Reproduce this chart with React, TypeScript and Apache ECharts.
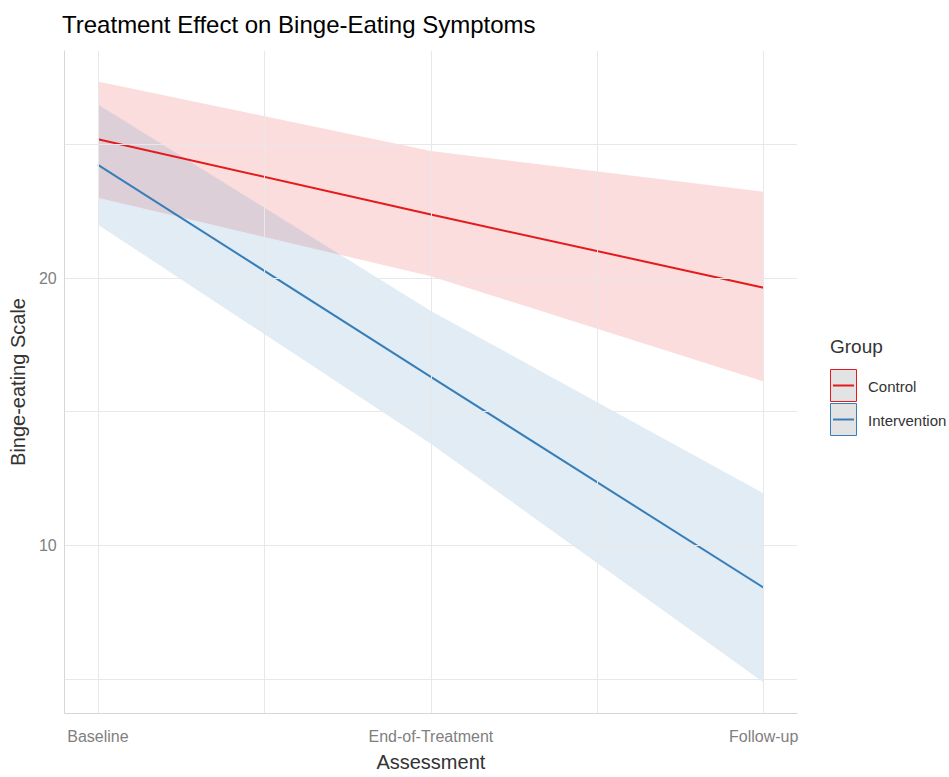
import React, { useEffect, useRef } from "react";
import * as echarts from "echarts";

const categories = ["Baseline", "End-of-Treatment", "Follow-up"];
const positions = [1, 2, 3];
const controlFit = [25.2, 22.38, 19.64];
const controlUpper = [27.36, 24.76, 23.23];
const controlLower = [23.01, 20.07, 16.13];
const interventionFit = [24.24, 16.3, 8.41];
const interventionUpper = [26.5, 18.77, 11.94];
const interventionLower = [22.0, 13.8, 4.86];
const yTickValues = [10, 20];
const yGridValues = [5, 10, 15, 20, 25];
const xGridValues = [1, 1.5, 2, 2.5, 3];
const groups = ["Control", "Intervention"];

const RED = "#E41A1C";
const BLUE = "#377EB8";
const FONT = "Liberation Sans";

function bandSeries(name: string, upper: number[], lower: number[], fill: string) {
  return {
    type: "custom",
    name,
    z: 2,
    silent: true,
    data: [0],
    renderItem: (params: any, api: any) => {
      const pts: number[][] = [];
      positions.forEach((x, i) => pts.push(api.coord([x, upper[i]])));
      for (let i = positions.length - 1; i >= 0; i--) pts.push(api.coord([positions[i], lower[i]]));
      return {
        type: "polygon",
        shape: { points: pts },
        style: { fill, opacity: 0.15 },
      };
    },
  };
}

export default function App() {
  const ref = useRef<HTMLDivElement>(null);
  useEffect(() => {
    if (!ref.current) return;
    const chart = echarts.init(ref.current, null, { renderer: "svg" });
    const gridColor = "#e8e8e8";
    const option: any = {
      animation: false,
      backgroundColor: "#ffffff",
      title: {
        text: "Treatment Effect on Binge-Eating Symptoms",
        left: 57,
        top: 7,
        textStyle: { fontFamily: FONT, fontSize: 24, fontWeight: "normal", color: "#000000" },
      },
      grid: { left: 63, right: 152, top: 51, bottom: 59 },
      xAxis: {
        type: "value",
        min: 0.9,
        max: 3.1,
        name: "Assessment",
        nameLocation: "middle",
        nameGap: 39,
        nameTextStyle: { fontFamily: FONT, fontSize: 20, color: "#333333" },
        axisLine: { show: true, lineStyle: { color: "#d6d6d6", width: 1 } },
        axisTick: { show: false },
        splitLine: { show: false },
        axisLabel: {
          customValues: positions,
          margin: 15,
          fontFamily: FONT,
          fontSize: 16,
          color: "#808080",
          formatter: (v: number) => {
            const i = positions.findIndex((p) => Math.abs(p - v) < 1e-6);
            return i >= 0 ? categories[i] : "";
          },
        },
      },
      yAxis: {
        type: "value",
        min: 3.72,
        max: 28.5,
        name: "Binge-eating Scale",
        nameLocation: "middle",
        nameGap: 33,
        nameTextStyle: { fontFamily: FONT, fontSize: 20, color: "#333333" },
        axisLine: { show: true, lineStyle: { color: "#d6d6d6", width: 1 } },
        axisTick: { show: false },
        splitLine: { show: false },
        axisLabel: {
          customValues: yTickValues,
          margin: 8,
          fontFamily: FONT,
          fontSize: 16,
          color: "#808080",
        },
      },
      series: [
        {
          type: "line",
          name: "grid",
          z: 1,
          silent: true,
          data: [],
          markLine: {
            silent: true,
            symbol: ["none", "none"],
            label: { show: false },
            lineStyle: { color: gridColor, width: 1, type: "solid" },
            data: [
              ...yGridValues.map((v) => ({ yAxis: v })),
              ...xGridValues.map((v) => ({ xAxis: v })),
            ],
          },
        },
        bandSeries("Control band", controlUpper, controlLower, RED),
        bandSeries("Intervention band", interventionUpper, interventionLower, BLUE),
        {
          type: "line",
          name: groups[0],
          z: 3,
          symbol: "none",
          data: positions.map((x, i) => [x, controlFit[i]]),
          lineStyle: { color: RED, width: 2 },
        },
        {
          type: "line",
          name: groups[1],
          z: 3,
          symbol: "none",
          data: positions.map((x, i) => [x, interventionFit[i]]),
          lineStyle: { color: BLUE, width: 2 },
        },
      ],
      graphic: [
        {
          type: "text",
          left: 830,
          top: 337,
          style: { text: "Group", fontFamily: FONT, fontSize: 19, fill: "#333333" },
        },
        {
          type: "group",
          left: 830,
          top: 369,
          children: [
            { type: "rect", shape: { x: 0.5, y: 0.5, width: 26, height: 32 }, style: { fill: "#e3e3e3", stroke: RED, lineWidth: 1 } },
            { type: "line", shape: { x1: 3, y1: 16.5, x2: 24, y2: 16.5 }, style: { stroke: RED, lineWidth: 2 } },
            { type: "rect", shape: { x: 0.5, y: 34.5, width: 26, height: 32 }, style: { fill: "#e3e3e3", stroke: BLUE, lineWidth: 1 } },
            { type: "line", shape: { x1: 3, y1: 50.5, x2: 24, y2: 50.5 }, style: { stroke: BLUE, lineWidth: 2 } },
            { type: "text", x: 38, y: 17, style: { text: groups[0], fontFamily: FONT, fontSize: 15, fill: "#333333", verticalAlign: "middle" } },
            { type: "text", x: 38, y: 51, style: { text: groups[1], fontFamily: FONT, fontSize: 15, fill: "#333333", verticalAlign: "middle" } },
          ],
        },
      ],
    };
    chart.setOption(option);
    return () => chart.dispose();
  }, []);
  return <div ref={ref} style={{ position: "fixed", left: 0, top: 0, width: 949, height: 777 }} />;
}
